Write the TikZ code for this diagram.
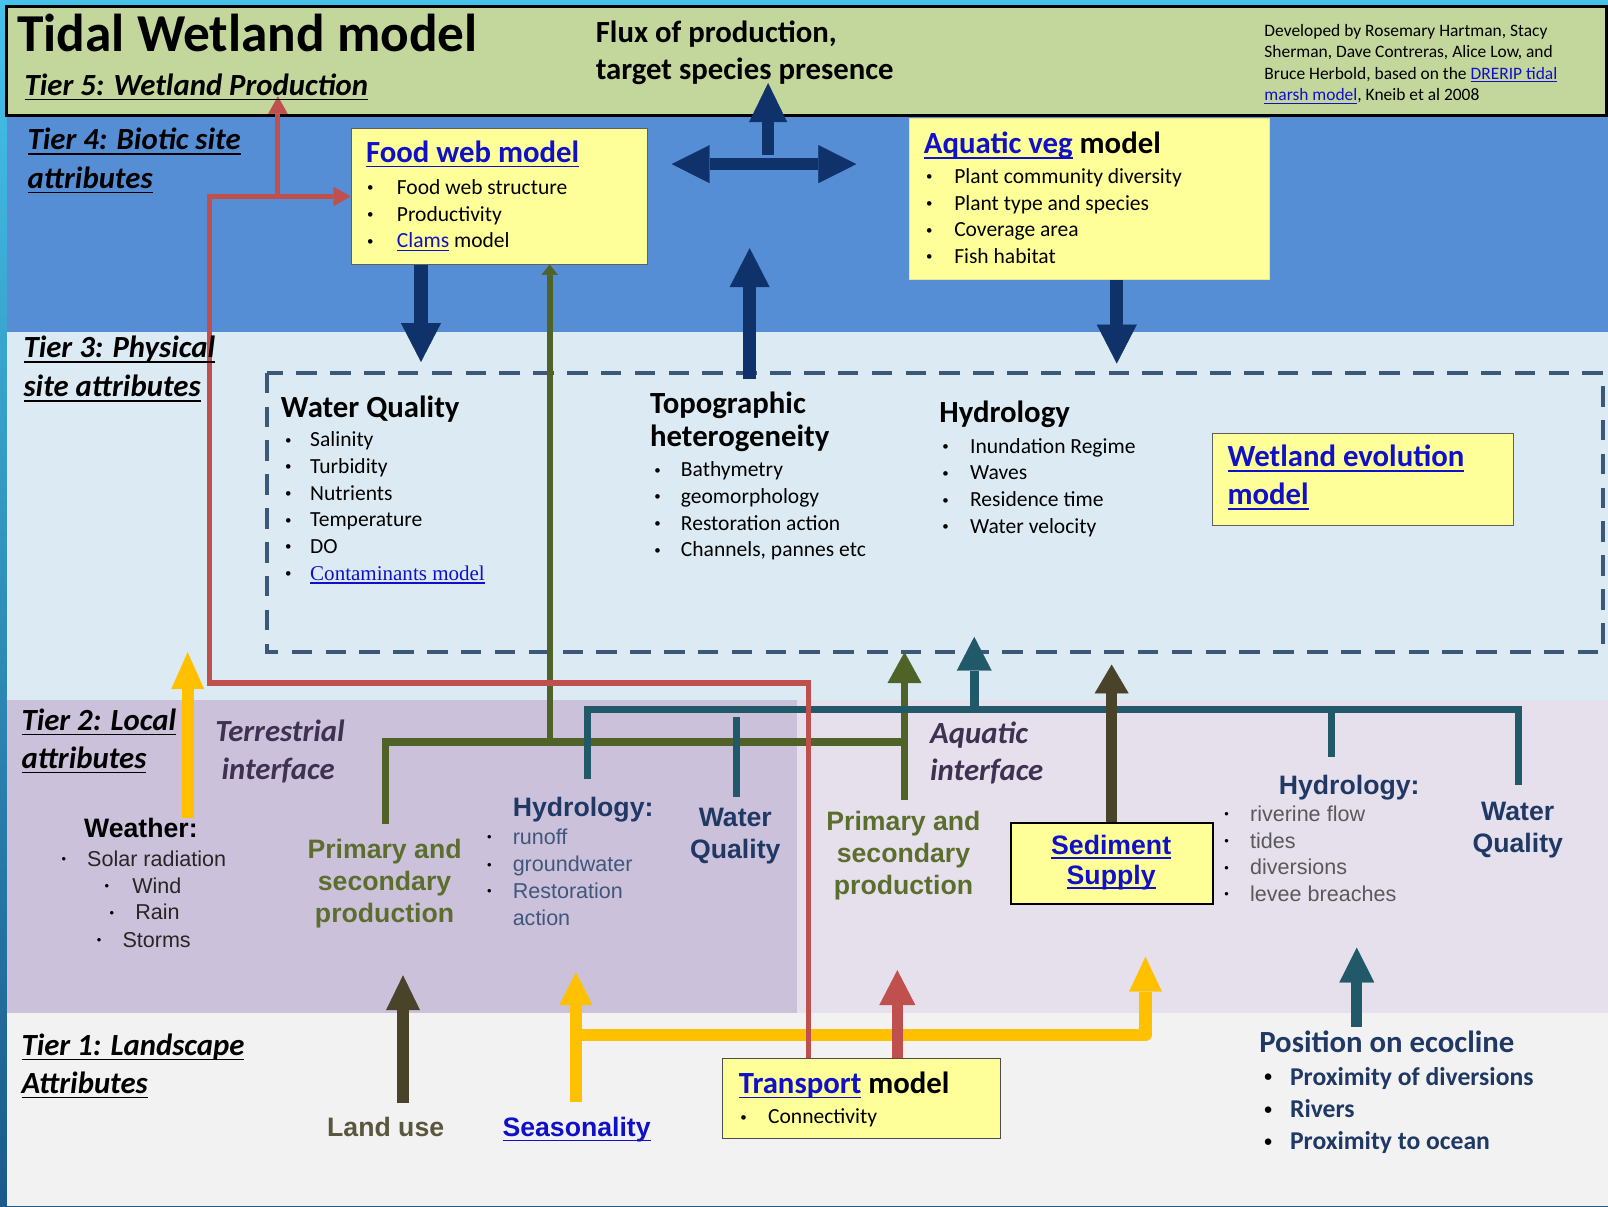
\documentclass[tikz,border=0pt]{standalone}
\usepackage{fontspec}
\setmainfont{Carlito}
\newfontfamily\arialf{Liberation Sans}
\newfontfamily\timesf{Liberation Serif}
\usetikzlibrary{arrows.meta,calc}
\definecolor{tfive}{HTML}{C3D69B}
\definecolor{tfour}{HTML}{558ED5}
\definecolor{tthree}{HTML}{DCEBF3}
\definecolor{ttwoa}{HTML}{CCC1DA}
\definecolor{ttwob}{HTML}{E6E0EC}
\definecolor{tone}{HTML}{F2F2F2}
\definecolor{ybox}{HTML}{FFFF99}
\definecolor{navyA}{HTML}{10326A}
\definecolor{dashc}{HTML}{3B5878}
\definecolor{olive}{HTML}{4F6228}
\definecolor{olivet}{HTML}{5C6E2E}
\definecolor{tealc}{HTML}{215968}
\definecolor{brownc}{HTML}{494429}
\definecolor{redc}{HTML}{C0504D}
\definecolor{yelc}{HTML}{FFC000}
\definecolor{linkc}{HTML}{1010C8}
\definecolor{navyt}{HTML}{1F3864}
\definecolor{purt}{HTML}{3F3151}
\definecolor{grayt}{HTML}{595959}
\definecolor{edgeA}{HTML}{45C3EA}
\definecolor{edgeB}{HTML}{1B5A8A}
\newcommand\myfs[1]{\fontsize{#1}{#1}\selectfont}
\newcommand\mybul[1]{\makebox[#1][l]{\raisebox{0.12em}{\color{black}\scalebox{0.6}{\textbullet}}}}
\newcommand\myul[1]{\leavevmode\setbox0=\hbox{#1}\rlap{\rule[-0.17em]{\wd0}{0.055em}}\box0}
\newcommand\lnk[1]{\textcolor{linkc}{\myul{#1}}}
\begin{document}
\begin{tikzpicture}[x=1pt,y=-1pt,
  txt/.style={inner sep=0pt,outer sep=0pt,anchor=base west},
  ctxt/.style={inner sep=0pt,outer sep=0pt,anchor=base},
  tier/.style={txt,font=\myfs{30}\bfseries\itshape,text=black},
  head/.style={txt,font=\myfs{30}\bfseries},
  item/.style={txt,font=\myfs{21}},
  ahead/.style={font=\arialf\myfs{26}\bfseries},
  yb/.style={draw=gray!75!black,line width=1pt,fill=ybox,inner sep=0pt,anchor=north west},
  navyarr/.style={navyA,line width=13pt,-{Triangle[width=39pt,length=38pt,line width=0.4pt]}},
  redline/.style={redc,line width=5pt,line join=miter},
  redtip/.style={-{Triangle[width=19pt,length=17pt,line width=0.4pt]}},
  olivel/.style={olive,line width=7pt},
  teall/.style={tealc,line width=7pt},
  yell/.style={yelc,line width=12pt,line join=round},
]
\useasboundingbox (0,0) rectangle (1568,1176);
% ---------- backgrounds ----------
\shade[top color=edgeA,bottom color=edgeB] (0,0) rectangle (1568,1176);
\fill[tfour] (7,113) rectangle (1568,323.5);
\fill[tthree] (7,323.5) rectangle (1568,683);
\fill[ttwoa] (7,683) rectangle (777,988);
\fill[ttwob] (777,683) rectangle (1568,988);
\fill[tone] (7,988) rectangle (1568,1176);
\draw[fill=tfive,line width=3pt] (6.5,6) rectangle (1566.5,113);
% dashed tier-3 frame
\draw[dashc,line width=4pt,dash pattern=on 20pt off 13pt] (260,363.5) rectangle (1563,636);

% ---------- boxes ----------
\node[yb,minimum width=289pt,minimum height=132pt] (fw) at (342,125) {};
\node[yb,draw=ybox!80!gray,minimum width=351.5pt,minimum height=156.5pt] (av) at (886,115.5) {};
\node[yb,minimum width=293.5pt,minimum height=90pt] (we) at (1182,422) {};
\node[yb,draw=black,line width=1.5pt,minimum width=197pt,minimum height=79pt] (sed) at (985,801.5) {};
\node[yb,draw=gray!60!black,minimum width=271pt,minimum height=78pt] (tr) at (704,1032) {};

% ---------- named arrow ends ----------
\coordinate (fwtip) at (410.5,353);
\coordinate (avtip) at (1089,354.5);
\coordinate (topofoot) at (731,370);
\coordinate (topotip) at (731,242);
\coordinate (dblL) at (655,160);
\coordinate (dblR) at (835,160);
\coordinate (dblM) at (749,160);
\coordinate (fluxtip) at (749,81);
\coordinate (weafoot) at (183,798);
\coordinate (weatip) at (183,636);
\coordinate (pstop) at (376,803);
\coordinate (olknee) at (376,723.5);
\coordinate (olend) at (882,723.5);
\coordinate (olj) at (536,723.5);
\coordinate (patop) at (882,780);
\coordinate (patip) at (882,636);
\coordinate (tlA) at (572.5,760);
\coordinate (tlB) at (572.5,692);
\coordinate (tlC) at (1481,692);
\coordinate (tlD) at (1481,765);
\coordinate (thj) at (1298,692);
\coordinate (thb) at (1298,738);
\coordinate (twqa) at (718,699);
\coordinate (twqb) at (718,777);
\coordinate (tj) at (950,692);
\coordinate (ttip) at (950,621);
\coordinate (sedtip) at (1084,648);
\coordinate (lufoot) at (393,1076);
\coordinate (lutip) at (393,951);
\coordinate (seafoot) at (561.5,1075);
\coordinate (seatip) at (561.5,948);
\coordinate (seaj) at (561.5,1009);
\coordinate (seatip2) at (1117,933);
\coordinate (trtip) at (875,946);
\coordinate (posfoot) at (1323,1001);
\coordinate (postip) at (1323,924);
\coordinate (rc1) at (204,666);
\coordinate (redj) at (271,192);
\coordinate (t5tip) at (271,94);

% ---------- connectors ----------
\draw[navyarr] (fw.south -| fwtip) -- (fwtip);
\draw[navyarr] (av.south -| avtip) -- (avtip);
\draw[navyarr] (topofoot) -- (topotip);
\draw[navyA,line width=12pt,{Triangle[width=37pt,length=37pt,line width=0.4pt]}-{Triangle[width=37pt,length=37pt,line width=0.4pt]}] (dblL) -- (dblR);
\draw[navyA,line width=12pt,-{Triangle[width=37pt,length=38pt,line width=0.4pt]}] ($(dblM)+(0,-9)$) -- (fluxtip);

\draw[yelc,line width=12pt,-{Triangle[width=32pt,length=36pt,line width=0.4pt]}] (weafoot) -- (weatip);

\draw[olivel] (pstop) -- (olknee) -- (olend);
\draw[olivel,-{Triangle[width=33pt,length=30pt,line width=0.4pt]}] (patop) -- (patip);
\draw[olive,line width=6pt,-{Triangle[width=16pt,length=10pt,line width=0.4pt]}] (olj) -- (fw.south -| olj);

\draw[teall,line join=miter] (tlA) -- (tlB) -- (tlC) -- (tlD);
\draw[teall] (thj) -- (thb);
\draw[teall] (twqa) -- (twqb);
\draw[teall,line width=9pt,-{Triangle[width=34pt,length=33pt,line width=0.4pt]}] (tj) -- (ttip);

\draw[brownc,line width=10.5pt,-{Triangle[width=33pt,length=28pt,line width=0.4pt]}] (sed.north -| sedtip) -- (sedtip);
\draw[brownc,line width=11pt,-{Triangle[width=33pt,length=34pt,line width=0.4pt]}] (lufoot) -- (lutip);

\draw[yelc,line width=12pt,-{Triangle[width=32pt,length=32pt,line width=0.4pt]}] (seafoot) -- (seatip);
\draw[yell,-{Triangle[width=32pt,length=34pt,line width=0.4pt]}] (seaj) -| (seatip2);

\draw[redc,line width=11pt,-{Triangle[width=35pt,length=34pt,line width=0.4pt]}] (tr.north -| trtip) -- (trtip);
\draw[tealc,line width=11pt,-{Triangle[width=34pt,length=34pt,line width=0.4pt]}] (posfoot) -- (postip);

\draw[redline,redtip] ($(tr.north west)+(84,0)$) |- (rc1) -- (rc1 |- fw.west) -- (fw.west);
\draw[redline,redtip] (redj) -- (t5tip);

% ---------- Tier 5 ----------
\node[txt,font=\myfs{52}\bfseries] (title) at (17,50.5) {Tidal Wetland model};
\node[tier] (t5) at (24,92.7) {\myul{Tier 5: Wetland Production}};
\node[head] (flux1) at (581,41) {Flux of production,};
\node[head] (flux2) at (581,78) {target species presence};
\node[txt,font=\myfs{17}] (cr1) at (1233,35.6) {Developed by Rosemary Hartman, Stacy};
\node[txt,font=\myfs{17}] (cr2) at (1233,56.5) {Sherman, Dave Contreras, Alice Low, and};
\node[txt,font=\myfs{17}] (cr3) at (1233,77.3) {Bruce Herbold, based on the \lnk{DRERIP tidal}};
\node[txt,font=\myfs{17}] (cr4) at (1233,98) {\lnk{marsh model}, Kneib et al 2008};

% ---------- Tier 4 ----------
\node[tier] (t4a) at (27,146) {\myul{Tier 4: Biotic site}};
\node[tier] (t4b) at (27,183.5) {\myul{attributes}};
\node[head] (fwt) at (357,158) {\lnk{Food web model}};
\foreach \t [count=\i] in {Food web structure,Productivity,\lnk{Clams} model}
  \node[item] (fwi\i) at ({358},{189.5+(\i-1)*26}) {\mybul{29pt}\t};
\node[head] (avt) at (901,149.5) {\lnk{Aquatic veg} model};
\foreach \t [count=\i] in {Plant community diversity,Plant type and species,Coverage area,Fish habitat}
  \node[item] (avi\i) at ({903},{179+(\i-1)*26}) {\mybul{27.5pt}\t};

% ---------- Tier 3 ----------
\node[tier] (t3a) at (23,349) {\myul{Tier 3: Physical}};
\node[tier] (t3b) at (23,387) {\myul{site attributes}};
\node[head] (wqt) at (274,407.5) {Water Quality};
\foreach \t [count=\i] in {Salinity,Turbidity,Nutrients,Temperature,DO}
  \node[item] (wqi\i) at ({278},{435.6+(\i-1)*26}) {\mybul{24.5pt}\t};
\node[item] (wqi6) at (278,565.6) {\mybul{24.5pt}{\timesf\myfs{20.5}\lnk{Contaminants model}}};
\node[head] (tpa) at (634,403) {Topographic};
\node[head] (tpb) at (634,435) {heterogeneity};
\foreach \t [count=\i] in {Bathymetry,geomorphology,Restoration action,{Channels, pannes etc}}
  \node[item] (tpi\i) at ({638},{465+(\i-1)*26}) {\mybul{26pt}\t};
\node[head] (hyt) at (916,411.5) {Hydrology};
\foreach \t [count=\i] in {Inundation Regime,Waves,Residence time,Water velocity}
  \node[item] (hyi\i) at ({919},{442+(\i-1)*26}) {\mybul{27pt}\t};
\node[head] (wea) at (1197,455) {\lnk{Wetland evolution}};
\node[head] (web) at (1197,492) {\lnk{model}};

% ---------- Tier 2 ----------
\node[tier] (t2a) at (21,712) {\myul{Tier 2: Local}};
\node[tier] (t2b) at (21,749) {\myul{attributes}};
\node[tier,text=purt] (ter1) at (210,723.5) {Terrestrial};
\node[tier,text=purt] (ter2) at (216,760) {interface};
\node[txt,ahead] (weath) at (82,817) {Weather:};
\begin{scope}[every node/.style={txt,font=\arialf\myfs{21},text=black!85}]
\node (wb1) at (60,844.5) {\mybul{25pt}Solar radiation};
\node (wb2) at (102,871) {\mybul{27pt}Wind};
\node (wb3) at (107,897) {\mybul{25pt}Rain};
\node (wb4) at (94.5,923.5) {\mybul{25pt}Storms};
\end{scope}
\node[ctxt,ahead,text=olivet] (ps1) at (375,837) {Primary and};
\node[ctxt,ahead,text=olivet] (ps2) at (375,868) {secondary};
\node[ctxt,ahead,text=olivet] (ps3) at (375,900) {production};
\node[txt,ahead,text=navyt] (hy2t) at (500,796.5) {Hydrology:};
\begin{scope}[every node/.style={txt,font=\arialf\myfs{21},text=navyt!85}]
\node (hy2i1) at (475,823) {\mybul{25pt}runoff};
\node (hy2i2) at (475,850) {\mybul{25pt}groundwater};
\node (hy2i3) at (475,876) {\mybul{25pt}Restoration};
\node (hy2i4) at (500,902) {action};
\end{scope}
\node[ctxt,ahead,text=navyt] (wq2a) at (717,806) {Water};
\node[ctxt,ahead,text=navyt] (wq2b) at (717,837) {Quality};
\node[tier,text=purt] (aq1) at (907,725) {Aquatic};
\node[tier,text=purt] (aq2) at (907,761) {interface};
\node[ctxt,ahead,text=olivet] (pa1) at (881,810) {Primary and};
\node[ctxt,ahead,text=olivet] (pa2) at (881,841) {secondary};
\node[ctxt,ahead,text=olivet] (pa3) at (881,872) {production};
\node[ctxt,ahead] (sed1) at (1083.5,833) {\lnk{Sediment}};
\node[ctxt,ahead] (sed2) at (1083.5,862) {\lnk{Supply}};
\node[txt,ahead,text=navyt] (hy3t) at (1247,775) {Hydrology:};
\begin{scope}[every node/.style={txt,font=\arialf\myfs{21},text=grayt}]
\node (hy3i1) at (1194,801) {\mybul{25pt}riverine\hspace{6pt}flow};
\node (hy3i2) at (1194,827) {\mybul{25pt}tides};
\node (hy3i3) at (1194,853) {\mybul{25pt}diversions};
\node (hy3i4) at (1194,879) {\mybul{25pt}levee\hspace{6pt}breaches};
\end{scope}
\node[ctxt,ahead,text=navyt] (wq3a) at (1480,800) {Water};
\node[ctxt,ahead,text=navyt] (wq3b) at (1480,831) {Quality};

% ---------- Tier 1 ----------
\node[tier] (t1a) at (21,1029) {\myul{Tier 1: Landscape}};
\node[tier] (t1b) at (21,1066) {\myul{Attributes}};
\node[txt,ahead,text=brownc!90] (lu) at (319,1108.5) {Land use};
\node[txt,ahead] (sea) at (490,1108.5) {\lnk{Seasonality}};
\node[head] (trt) at (720.5,1066) {\lnk{Transport} model};
\node[item] (tri) at (722,1096) {\mybul{27pt}Connectivity};
\node[head,text=navyt] (pos) at (1228,1026) {Position on ecocline};
\foreach \t [count=\i] in {Proximity of diversions,Rivers,Proximity to ocean}
  \node[txt,font=\myfs{25}\bfseries,text=navyt] (posi\i) at ({1233},{1058+(\i-1)*31.5}) {\mybul{25pt}\t};
\end{tikzpicture}
\end{document}
